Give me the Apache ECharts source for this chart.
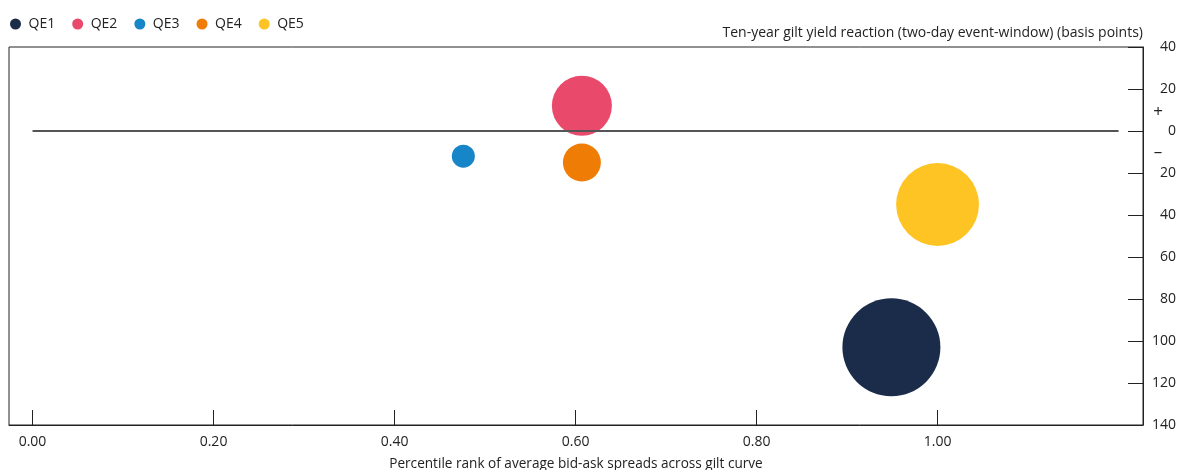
<!DOCTYPE html>
<html>
<head>
<meta charset="utf-8">
<script src="https://cdn.jsdelivr.net/npm/echarts@6/dist/echarts.min.js"></script>
<style>
html,body{margin:0;padding:0;background:#fff;}
#c{width:1179px;height:470px;}
</style>
</head>
<body>
<div id="c"></div>
<script>
// Data
const seriesNames = ['QE1', 'QE2', 'QE3', 'QE4', 'QE5'];
const percentileRank = [0.949, 0.607, 0.476, 0.607, 1.0];
const yieldReaction = [-103, 12, -12, -15, -35];
const bubbleValue = [200, 75, 11, 30, 143];
const xTickValues = [0, 0.2, 0.4, 0.6, 0.8, 1.0];

const colors = ['#1b2c4a', '#e9496b', '#1786c8', '#ef7d05', '#fdc423'];
const FONT = 'Open Sans';
const TXT = '#222';

const chart = echarts.init(document.getElementById('c'));

const series = seriesNames.map((name, i) => ({
  name: name,
  type: 'scatter',
  data: [[percentileRank[i], yieldReaction[i], bubbleValue[i]]],
  symbolSize: d => 98 * Math.sqrt(d[2] / 200),
  itemStyle: { color: colors[i], opacity: 1 },
  emphasis: { disabled: true },
  z: 3
}));

series.push({
  name: 'zero',
  type: 'line',
  data: [],
  silent: true,
  markLine: {
    silent: true,
    symbol: ['none', 'none'],
    label: { show: false },
    lineStyle: { color: '#555', width: 2, type: 'solid' },
    data: [[{ coord: [0, 0] }, { coord: [1.2, 0] }]]
  },
  z: 2
});

chart.setOption({
  animation: false,
  backgroundColor: '#fff',
  textStyle: { fontFamily: FONT },
  legend: {
    data: seriesNames,
    left: 5,
    top: 12,
    icon: 'circle',
    itemWidth: 16,
    itemHeight: 11,
    itemGap: 17,
    textStyle: { fontFamily: FONT, fontSize: 14, color: TXT }
  },
  grid: {
    left: 9, right: 36, top: 47, bottom: 45,
    outerBoundsMode: 'none',
    containLabel: false,
    show: true, borderColor: '#222', borderWidth: 1, backgroundColor: 'transparent'
  },
  xAxis: {
    type: 'value',
    min: -0.026,
    max: 1.227,
    name: 'Percentile rank of average bid-ask spreads across gilt curve',
    nameLocation: 'middle',
    nameGap: 32,
    nameTextStyle: { fontFamily: FONT, fontSize: 13.6, color: TXT },
    axisLine: { show: true, onZero: false, lineStyle: { color: '#222', width: 1 } },
    axisTick: { show: true, inside: true, length: 15, customValues: xTickValues, lineStyle: { color: '#222' } },
    axisLabel: {
      customValues: xTickValues,
      formatter: v => v.toFixed(2),
      fontFamily: FONT, fontSize: 14, color: TXT, margin: 10
    },
    splitLine: { show: false }
  },
  yAxis: [
    {
      type: 'value',
      position: 'right',
      min: -140,
      max: 40,
      interval: 20,
      name: 'Ten-year gilt yield reaction (two-day event-window) (basis points)',
      nameLocation: 'end',
      nameGap: 7,
      nameTextStyle: { fontFamily: FONT, fontSize: 14, color: TXT, align: 'right' },
      axisLine: { show: true, onZero: false, lineStyle: { color: '#222', width: 1 } },
      axisTick: { show: true, inside: true, length: 15, lineStyle: { color: '#222' } },
      axisLabel: {
        formatter: v => String(Math.abs(v)),
        fontFamily: FONT, fontSize: 14, color: TXT, align: 'right', margin: 33
      },
      splitLine: { show: false }
    },
    {
      type: 'value',
      position: 'right',
      offset: 0,
      min: -140,
      max: 40,
      axisLine: { show: false, onZero: false },
      axisTick: { show: false },
      axisLabel: {
        customValues: [9, -10],
        formatter: v => (v > 0 ? '+' : '\u2013'),
        fontFamily: FONT, fontSize: 17, color: TXT, align: 'center', margin: 15
      },
      splitLine: { show: false }
    }
  ],
  series: series
});
</script>
</body>
</html>
